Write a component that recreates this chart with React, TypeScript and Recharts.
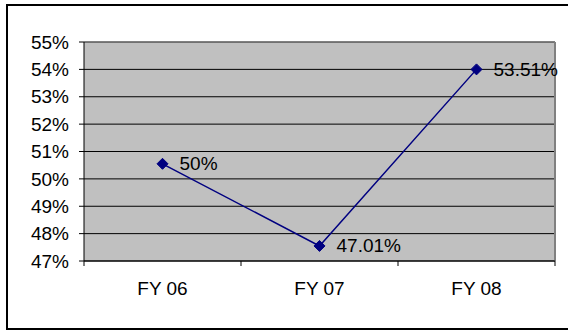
import React from "react";
import { LineChart, Line, XAxis, YAxis, CartesianGrid, LabelList, ReferenceLine } from "recharts";

const categories = ["FY 06", "FY 07", "FY 08"];
const values = [50.55, 47.55, 54.0];
const labelTexts = ["50%", "47.01%", "53.51%"];
const yTicks = [47, 48, 49, 50, 51, 52, 53, 54, 55];
const xBoundaries = [0, 1, 2, 3];

const data = categories.map((name, i) => ({ name, x: i + 0.5, v: values[i], label: labelTexts[i] }));

const FONT = "Liberation Sans, Arial, sans-serif";

const Diamond = (props: any) => {
  const { cx, cy } = props;
  if (cx == null || cy == null) return null;
  const r = 5.5;
  return <path d={`M${cx},${cy - r}L${cx + r},${cy}L${cx},${cy + r}L${cx - r},${cy}Z`} fill="#000080" stroke="#000080" />;
};

const renderLabel = (props: any) => {
  const { x, y, index } = props;
  return (
    <text x={x + 17} y={y} dominantBaseline="central" fontSize={19} fontFamily={FONT} fill="#000">
      {labelTexts[index]}
    </text>
  );
};

const CategoryTick = (props: any) => {
  const { x, y, width, index } = props;
  if (index >= categories.length) return null;
  const half = width / categories.length / 2;
  return (
    <text x={x + half} y={y} dy="0.71em" textAnchor="middle" fontSize={19} fontFamily={FONT} fill="#000">
      {categories[index]}
    </text>
  );
};

export default function App() {
  return (
    <div style={{ position: "absolute", left: 0, top: 0, width: 568, height: 331, background: "#fff", overflow: "hidden" }}>
      <div style={{ position: "absolute", left: 6, top: 4, width: 620, height: 322, border: "2px solid #000" }} />
      <div style={{ position: "absolute", left: 0, top: 0 }}>
        <LineChart width={568} height={331} data={data} margin={{ top: 42, right: 13, bottom: 24, left: 0 }}>
          <CartesianGrid
            xAxisId="num"
            yAxisId="l"
            fill="#C0C0C0"
            stroke="#000"
            vertical={false}
            horizontalValues={yTicks}
          />
          <XAxis
            xAxisId="num"
            dataKey="x"
            type="number"
            domain={[0, 3]}
            ticks={xBoundaries}
            interval={0}
            tick={<CategoryTick />}
            tickSize={5}
            tickMargin={16}
            height={46}
            axisLine={{ stroke: "#000" }}
            tickLine={{ stroke: "#000" }}
          />
          <YAxis
            yAxisId="l"
            domain={[47, 55]}
            ticks={yTicks}
            tickFormatter={(v: number) => `${v}%`}
            width={84}
            tickSize={5}
            tickMargin={10}
            interval={0}
            axisLine={{ stroke: "#000" }}
            tickLine={{ stroke: "#000" }}
            tick={{ fontSize: 19, fontFamily: FONT, fill: "#000" }}
          />
          <ReferenceLine xAxisId="num" yAxisId="l" x={3} stroke="#808080" strokeWidth={2} />
          <ReferenceLine xAxisId="num" yAxisId="l" y={55} stroke="#808080" strokeWidth={1} />
          <Line
            xAxisId="num"
            yAxisId="l"
            dataKey="v"
            stroke="#000080"
            strokeWidth={1.5}
            dot={<Diamond />}
            activeDot={false}
            isAnimationActive={false}
          >
            <LabelList dataKey="label" content={renderLabel} />
          </Line>
        </LineChart>
      </div>
    </div>
  );
}
